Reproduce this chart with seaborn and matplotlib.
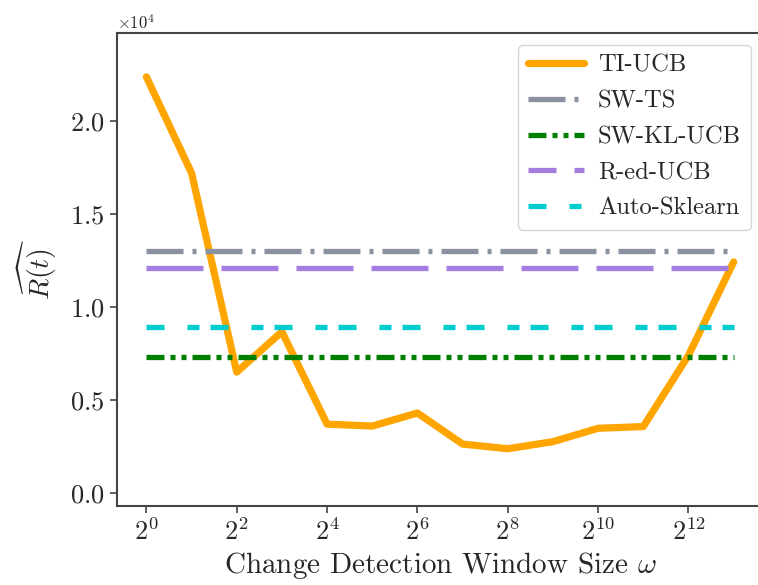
import numpy as np
import pandas as pd
import matplotlib
matplotlib.use("Agg")
import matplotlib.pyplot as plt
import matplotlib.ticker as mticker
from matplotlib.lines import Line2D
import seaborn as sns

# ---- data ----
window_sizes = [2**k for k in range(14)]
ti_ucb = [22370, 17200, 6500, 8670, 3700, 3600, 4300, 2630, 2380, 2760, 3480, 3570, 7400, 12420]
baseline_names = ["SW-TS", "SW-KL-UCB", "R-ed-UCB", "Auto-Sklearn"]
baseline_values = [13000, 7330, 12080, 8940]

sns.set_theme(style="ticks")
plt.rcParams["font.family"] = ["cmr10", "DejaVu Serif"]
plt.rcParams["mathtext.fontset"] = "cm"
plt.rcParams["axes.unicode_minus"] = False
plt.rcParams["axes.formatter.use_mathtext"] = True
plt.rcParams["lines.scale_dashes"] = False

fig = plt.figure(figsize=(7.58, 5.85), dpi=100)
ax = fig.add_axes([0.1544, 0.135, 0.8522, 0.8086])

px = 0.72  # points per pixel at 100 dpi
styles = {
    "SW-TS": dict(color="#8a92a2", dashes=(37 * px, 9 * px, 4 * px, 9 * px)),
    "SW-KL-UCB": dict(color="#007f00", dashes=(18 * px, 6 * px, 5 * px, 6 * px, 5 * px, 6 * px)),
    "R-ed-UCB": dict(color="#a47ddf", dashes=(57 * px, 18 * px)),
    "Auto-Sklearn": dict(color="#00cdd0", dashes=(18 * px, 23 * px, 12 * px, 11 * px)),
}
legend_dashes = {"R-ed-UCB": (28 * px, 18 * px)}

handles = {}
df = pd.DataFrame({"w": window_sizes, "r": ti_ucb})
sns.lineplot(data=df, x="w", y="r", ax=ax, color="#ffa500", linewidth=5.2, label="TI-UCB")
handles["TI-UCB"] = ax.lines[-1]

for name, val in zip(baseline_names, baseline_values):
    bdf = pd.DataFrame({"w": [window_sizes[0], window_sizes[-1]], "r": [val, val]})
    sns.lineplot(data=bdf, x="w", y="r", ax=ax, color=styles[name]["color"],
                 linewidth=3.8, label=name)
    ln = ax.lines[-1]
    ln.set_dashes(styles[name]["dashes"])
    ln.set_dash_capstyle("butt")
    if name in legend_dashes:
        h = Line2D([], [], color=styles[name]["color"], linewidth=3.8)
        h.set_dashes(legend_dashes[name])
        h.set_dash_capstyle("butt")
        handles[name] = h
    else:
        handles[name] = ln

ax.set_xscale("log", base=2)
ax.set_xlim(2**-0.65, 2**13.65)
ax.set_ylim(-700, 24730)
ax.set_xticks([2**k for k in range(0, 13, 2)])
ax.xaxis.set_minor_locator(mticker.NullLocator())
ax.set_yticks([0, 5000, 10000, 15000, 20000])
fmt = mticker.ScalarFormatter(useMathText=True)
fmt.set_powerlimits((0, 0))
ax.yaxis.set_major_formatter(fmt)
ax.yaxis.get_offset_text().set_fontsize(12)

ax.tick_params(axis="both", labelsize=19, length=5, width=1.2, color="#444444", pad=4)
for s in ax.spines.values():
    s.set_visible(True)
    s.set_color("#444444")
    s.set_linewidth(1.5)
ax.spines["right"].set_visible(False)

ax.set_xlabel(r"Change Detection Window Size $\omega$", fontsize=21, labelpad=3)
ax.set_ylabel(r"$\widehat{R(t)}$", fontsize=20, labelpad=8)

order = ["TI-UCB", "SW-TS", "SW-KL-UCB", "R-ed-UCB", "Auto-Sklearn"]
leg = ax.legend([handles[n] for n in order], order, loc="upper right",
                bbox_to_anchor=(0.981, 0.975), borderaxespad=0.0, fontsize=17.7,
                frameon=True, fancybox=True, handlelength=2.3, handletextpad=0.55,
                labelspacing=0.55, borderpad=0.4)
leg.get_frame().set_edgecolor("#cccccc")
leg.get_frame().set_linewidth(1.0)

fig.savefig("out.png", dpi=100)
